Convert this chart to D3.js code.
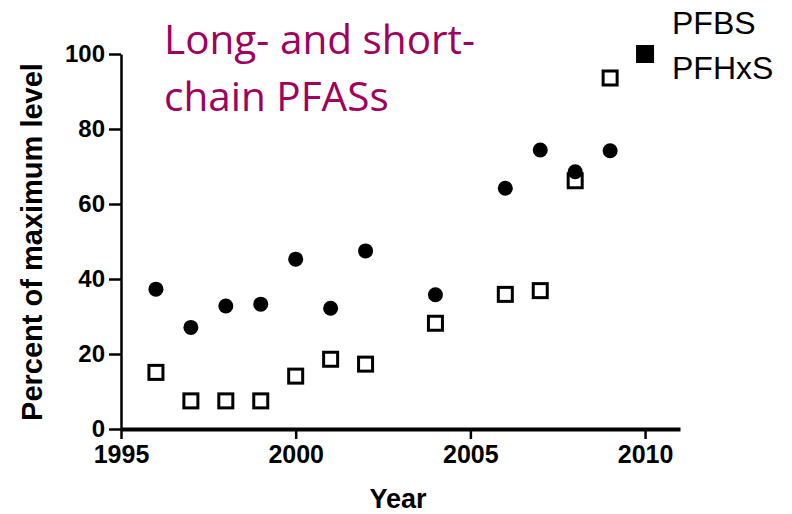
<!DOCTYPE html>
<html>
<head>
<meta charset="utf-8">
<script src="https://cdn.jsdelivr.net/npm/d3@7"></script>
<style>
  html, body { margin: 0; padding: 0; background: #fff; }
  svg { display: block; }
</style>
</head>
<body>
<div id="chart"></div>
<script>
// Percent of maximum level per year, two series.
const years = [1996, 1997, 1998, 1999, 2000, 2001, 2002, 2004, 2006, 2007, 2008, 2009, 2010];
const circleSeries = [37.3, 27.1, 32.8, 33.3, 45.3, 32.2, 47.5, 35.8, 64.2, 74.4, 68.6, 74.2, 100];
const squareSeries = [15.1, 7.5, 7.5, 7.5, 14.1, 18.6, 17.3, 28.2, 35.9, 36.9, 66.2, 93.6, 100];
const xTicks = [1995, 2000, 2005, 2010];
const yTicks = [0, 20, 40, 60, 80, 100];
const legendLabels = ["PFBS", "PFHxS"];
const titleLines = ["Long- and short-", "chain PFASs"];

const W = 792, H = 514;
const AXIS_FONT = "'Liberation Sans', Arial, sans-serif";

const svg = d3.select("#chart").append("svg")
    .attr("width", W)
    .attr("height", H)
    .attr("viewBox", `0 0 ${W} ${H}`);

const x = d3.scaleLinear().domain([1995, 2011]).range([121, 680]);
const y = d3.scaleLinear().domain([0, 100]).range([429, 54]);

// --- axes -----------------------------------------------------------------

const yAxis = svg.append("g")
    .attr("transform", `translate(${x(1995)},0)`)
    .call(d3.axisLeft(y).tickValues(yTicks).tickSize(12).tickSizeOuter(0).tickPadding(4));

yAxis.select(".domain").attr("stroke", "#000").attr("stroke-width", 2.5);
yAxis.selectAll(".tick line").attr("stroke", "#000").attr("stroke-width", 2.5);
yAxis.selectAll(".tick text")
    .attr("font-family", AXIS_FONT)
    .attr("font-weight", "bold")
    .attr("font-size", "24px")
    .attr("fill", "#000");

const xAxis = svg.append("g")
    .attr("transform", `translate(0,${y(0)})`)
    .call(d3.axisBottom(x).tickValues(xTicks).tickFormat(d3.format("d"))
        .tickSize(10).tickSizeOuter(0).tickPadding(6));

xAxis.select(".domain").attr("stroke", "#000").attr("stroke-width", 4);
xAxis.selectAll(".tick line").attr("stroke", "#000").attr("stroke-width", 2.5);
xAxis.selectAll(".tick text")
    .attr("font-family", AXIS_FONT)
    .attr("font-weight", "bold")
    .attr("font-size", "25px")
    .attr("fill", "#000");

// axis titles
svg.append("text")
    .attr("x", 398)
    .attr("y", 508)
    .attr("text-anchor", "middle")
    .attr("font-family", AXIS_FONT)
    .attr("font-weight", "bold")
    .attr("font-size", "27px")
    .text("Year");

svg.append("text")
    .attr("transform", "translate(42,242) rotate(-90)")
    .attr("text-anchor", "middle")
    .attr("font-family", AXIS_FONT)
    .attr("font-weight", "bold")
    .attr("font-size", "29px")
    .text("Percent of maximum level");

// --- marks ----------------------------------------------------------------

const SQ = 14;

svg.append("g")
    .selectAll("rect")
    .data(years.map((yr, i) => ({ yr, v: squareSeries[i] })))
    .enter()
    .append("rect")
    .attr("x", (d) => x(d.yr) - SQ / 2)
    .attr("y", (d) => y(d.v) - SQ / 2)
    .attr("width", SQ)
    .attr("height", SQ)
    .attr("fill", "#fff")
    .attr("stroke", "#000")
    .attr("stroke-width", 3);

svg.append("g")
    .selectAll("circle")
    .data(years.map((yr, i) => ({ yr, v: circleSeries[i] })))
    .enter()
    .append("circle")
    .attr("cx", (d) => x(d.yr))
    .attr("cy", (d) => y(d.v))
    .attr("r", 7.5)
    .attr("fill", "#000");

// 2010 point reads as a solid square where both series hit 100
svg.append("rect")
    .attr("x", x(2010) - 9)
    .attr("y", y(100) - 9)
    .attr("width", 18)
    .attr("height", 18)
    .attr("fill", "#000");

// --- legend text + title --------------------------------------------------

svg.append("g")
    .selectAll("text")
    .data(legendLabels)
    .enter()
    .append("text")
    .attr("x", 672)
    .attr("y", (d, i) => 34 + i * 45)
    .attr("font-family", AXIS_FONT)
    .attr("font-size", "32px")
    .attr("fill", "#000")
    .text((d) => d);

svg.append("g")
    .selectAll("text")
    .data(titleLines)
    .enter()
    .append("text")
    .attr("x", 164)
    .attr("y", (d, i) => 54 + i * 57)
    .attr("font-family", "'Open Sans', 'Noto Sans', sans-serif")
    .attr("font-size", "40.5px")
    .attr("fill", "#a1005c")
    .text((d) => d);
</script>
</body>
</html>
